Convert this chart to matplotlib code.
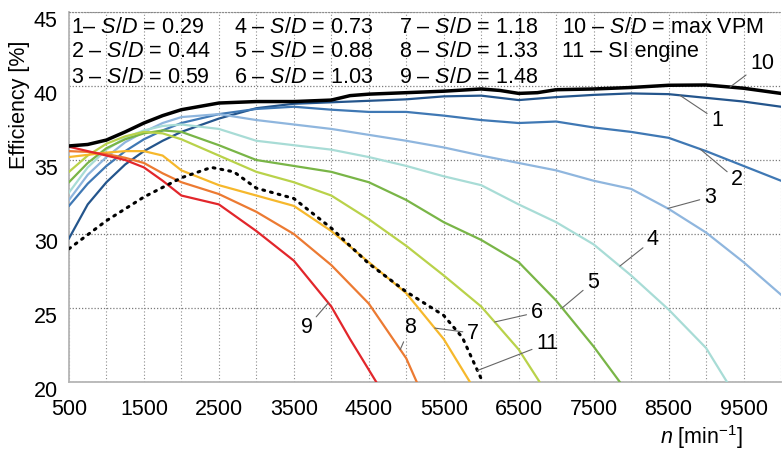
import matplotlib
matplotlib.use("Agg")
import matplotlib.pyplot as plt
import numpy as np
from matplotlib.transforms import ScaledTranslation

plt.rcParams["font.family"] = ["Liberation Sans", "DejaVu Sans"]
plt.rcParams["mathtext.fontset"] = "custom"
plt.rcParams["mathtext.rm"] = "Liberation Sans"
plt.rcParams["mathtext.it"] = "Liberation Sans:italic"

# engine speed grid used by the curves that run to the right edge
rpm_full = [500, 750, 1000, 1250, 1500, 1750, 2000, 2500, 3000, 3500, 4000, 4500,
            5000, 5500, 6000, 6500, 7000, 7500, 8000, 8500, 9000, 9500, 10000]

eff_1 = [29.7, 32.0, 33.5, 34.7, 35.6, 36.3, 36.9, 37.8, 38.5, 38.8, 38.9, 39.0,
         39.1, 39.3, 39.35, 39.05, 39.25, 39.4, 39.5, 39.45, 39.2, 38.95, 38.6]
eff_2 = [31.9, 33.4, 34.6, 35.6, 36.4, 37.0, 37.5, 38.1, 38.45, 38.6, 38.4, 38.25,
         38.25, 38.0, 37.7, 37.5, 37.6, 37.2, 36.9, 36.5, 35.6, 34.6, 33.6]
eff_3 = [32.3, 34.0, 35.2, 36.2, 36.9, 37.5, 37.9, 38.1, 37.7, 37.4, 37.1, 36.7,
         36.3, 35.85, 35.3, 34.8, 34.3, 33.6, 33.05, 31.7, 30.1, 28.1, 25.9]

rpm_4 = [500, 750, 1000, 1250, 1500, 1750, 2000, 2500, 3000, 3500, 4000, 4500,
         5000, 5500, 6000, 6500, 7000, 7500, 8000, 8500, 9000, 9280]
eff_4 = [32.8, 34.5, 35.7, 36.5, 37.0, 37.3, 37.4, 37.1, 36.3, 36.0, 35.7, 35.2,
         34.6, 33.9, 33.3, 32.0, 30.8, 29.3, 27.2, 24.9, 22.3, 20.0]

rpm_5 = [500, 750, 1000, 1250, 1500, 1750, 2000, 2500, 3000, 3500, 4000, 4500,
         5000, 5500, 6000, 6500, 7000, 7500, 7850]
eff_5 = [33.5, 34.8, 35.8, 36.4, 36.8, 37.0, 36.9, 36.0, 35.0, 34.6, 34.2, 33.5,
         32.3, 30.8, 29.6, 28.1, 25.5, 22.4, 20.0]

rpm_6 = [500, 750, 1000, 1250, 1500, 1750, 2000, 2500, 3000, 3500, 4000, 4500,
         5000, 5500, 6000, 6500, 6780]
eff_6 = [34.2, 35.3, 36.1, 36.6, 36.9, 36.8, 36.4, 35.3, 34.2, 33.5, 32.6, 31.0,
         29.2, 27.2, 25.1, 22.2, 20.0]

rpm_7 = [500, 750, 1000, 1250, 1500, 1750, 2000, 2500, 3000, 3500, 4000, 4500,
         5000, 5500, 5850]
eff_7 = [35.2, 35.35, 35.5, 35.6, 35.6, 35.3, 34.3, 33.3, 32.6, 31.9, 30.2, 28.1,
         26.0, 22.9, 20.0]

rpm_8 = [500, 750, 1000, 1250, 1500, 1750, 2000, 2500, 3000, 3500, 4000, 4500,
         5000, 5140]
eff_8 = [35.6, 35.55, 35.4, 35.15, 34.8, 34.1, 33.5, 32.7, 31.5, 30.0, 27.9, 25.3,
         21.6, 20.0]

rpm_9 = [500, 750, 1000, 1250, 1500, 1750, 2000, 2250, 2500, 3000, 3500, 4000,
         4250, 4600]
eff_9 = [35.9, 35.6, 35.3, 35.0, 34.5, 33.6, 32.6, 32.3, 32.0, 30.2, 28.2, 25.1,
         22.9, 20.0]

rpm_10 = [500, 750, 1000, 1250, 1500, 1750, 2000, 2500, 3000, 3500, 4000, 4250,
          4500, 5000, 5500, 6000, 6250, 6500, 6750, 7000, 7500, 8000, 8500, 9000,
          9500, 10000]
eff_10 = [35.95, 36.05, 36.35, 36.9, 37.5, 38.0, 38.4, 38.85, 38.95, 38.95, 39.05,
          39.35, 39.45, 39.55, 39.65, 39.8, 39.7, 39.5, 39.55, 39.75, 39.8, 39.9,
          40.05, 40.07, 39.85, 39.5]

rpm_11 = [500, 1000, 1500, 2000, 2400, 2700, 3000, 3500, 4000, 4500, 5000, 5500,
          5750, 6020]
eff_11 = [29.0, 30.9, 32.5, 33.8, 34.5, 34.2, 33.1, 32.4, 30.4, 28.0, 26.1, 24.5,
          23.0, 20.0]

legend_lines = [
    ["1– $S/D$ = 0.29", "2 – $S/D$ = 0.44", "3 – $S/D$ = 0.59"],
    ["4 – $S/D$ = 0.73", "5 – $S/D$ = 0.88", "6 – $S/D$ = 1.03"],
    ["7 – $S/D$ = 1.18", "8 – $S/D$ = 1.33", "9 – $S/D$ = 1.48"],
    ["10 – $S/D$ = max VPM", "11 – SI engine"],
]

x_ticks = [500, 1500, 2500, 3500, 4500, 5500, 6500, 7500, 8500, 9500]
y_ticks = [20, 25, 30, 35, 40, 45]

curves = [
    (rpm_full, eff_1, "#24558c"),
    (rpm_full, eff_2, "#3f78b4"),
    (rpm_full, eff_3, "#8fb6de"),
    (rpm_4, eff_4, "#a8dcd6"),
    (rpm_5, eff_5, "#79b547"),
    (rpm_6, eff_6, "#b9d24a"),
    (rpm_7, eff_7, "#f6b82c"),
    (rpm_8, eff_8, "#ec7a32"),
    (rpm_9, eff_9, "#e2262b"),
]

fs = 15.5

fig = plt.figure(figsize=(7.82, 4.5), dpi=100)
ax = fig.add_axes([0.0882, 0.1511, 0.9105, 0.8222])

for x, y, c in curves:
    ax.plot(x, y, color=c, lw=1.6, zorder=3)
ax.plot(rpm_11, eff_11, color="black", lw=2.2, linestyle=(0, (0.6, 2.0)),
        dash_capstyle="round", zorder=4)
ax.plot(rpm_10, eff_10, color="black", lw=2.5, zorder=5)

ax.set_xlim(500, 10000)
ax.set_ylim(20, 45)
ax.set_xticks(x_ticks)
ax.set_xticks(np.arange(1000, 10001, 1000), minor=True)
ax.set_yticks(y_ticks)
ax.tick_params(axis="both", which="both", length=0, labelsize=fs)
ax.tick_params(axis="x", pad=12)
ax.tick_params(axis="y", pad=8)
ax.grid(True, which="both", axis="x", color="#8c8c8c", linestyle=(0, (1, 2)), lw=0.8)
ax.grid(True, which="major", axis="y", color="#7a7a7a", linestyle=(0, (1, 1.5)), lw=0.9)
ax.set_axisbelow(True)

for s in ["left", "bottom"]:
    ax.spines[s].set_color("#b5b5b5")
    ax.spines[s].set_linewidth(1.3)
ax.spines["right"].set_visible(False)
ax.spines["top"].set_linestyle(":")
ax.spines["top"].set_color("#8c8c8c")

# y tick labels sit a little below their grid lines
offset = ScaledTranslation(0, -5 / 72, fig.dpi_scale_trans)
for lab in ax.get_yticklabels():
    lab.set_transform(lab.get_transform() + offset)

# legend block in four columns
col_x = [0.003, 0.232, 0.463, 0.692]
row_y = [0.959, 0.892, 0.824]
for cx, col in zip(col_x, legend_lines):
    for ry, txt in zip(row_y, col):
        ax.text(cx, ry, txt, transform=ax.transAxes, fontsize=fs,
                ha="left", va="center", zorder=6)

# curve numbers with leader lines
labels = [
    ("10", rpm_10, eff_10, 9320, 9746, 41.55),
    ("1", rpm_full, eff_1, 8650, 9146, 37.7),
    ("2", rpm_full, eff_2, 8920, 9413, 33.65),
    ("3", rpm_full, eff_3, 8490, 9050, 32.5),
    ("4", rpm_4, eff_4, 7850, 8290, 29.6),
    ("5", rpm_5, eff_5, 7080, 7490, 26.75),
    ("6", rpm_6, eff_6, 6180, 6740, 24.7),
    ("7", rpm_7, eff_7, 5380, 5890, 23.3),
    ("11", rpm_11, eff_11, 5950, 6880, 22.6),
    ("8", rpm_8, eff_8, 4920, 5050, 23.7),
    ("9", rpm_9, eff_9, 3960, 3670, 23.65),
]
for name, xs, ys, ax_x, tx, ty in labels:
    ay = np.interp(ax_x, xs, ys)
    ax.annotate(name, xy=(ax_x, ay), xytext=(tx, ty), fontsize=fs,
                ha="center", va="center", zorder=7,
                arrowprops=dict(arrowstyle="-", color="#666666", lw=0.8,
                                shrinkA=1, shrinkB=0))

fig.text(20 / 782, 1 - 105 / 450, "Efficiency [%]", rotation=90, fontsize=fs,
         ha="center", va="center")
fig.text(702 / 782, 1 - 437 / 450, "$n$ [min$^{-1}$]", fontsize=fs,
         ha="center", va="center")

fig.savefig("out.png", dpi=100)
